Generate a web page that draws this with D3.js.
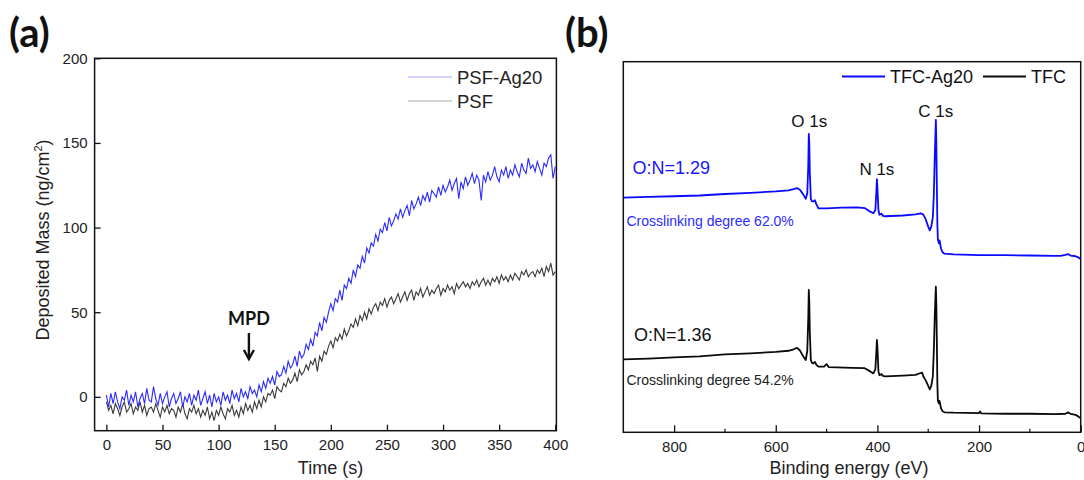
<!DOCTYPE html>
<html>
<head>
<meta charset="utf-8">
<script src="https://cdn.jsdelivr.net/npm/d3@7"></script>
<style>
  body { margin: 0; background: #fff; }
  svg { display: block; }
  text { font-family: "Liberation Sans", Arial, sans-serif; }
  .panel-label { font-family: Lato, "Open Sans", sans-serif; font-weight: 700; }
</style>
</head>
<body>
<svg id="chart"></svg>
<script>
// ---- Panel (a): QCM deposited mass vs time ----
// Samples every 2 s from 0 to 400 s.
const timeTicks = [0, 50, 100, 150, 200, 250, 300, 350, 400];
const massTicks = [0, 50, 100, 150, 200];

const psfAg20 = [
  1, -6, 2, -4, 3, -3, -7, 0, -2, 4,
  -5, 1, -3, 3, -6, -1, 2, -4, 5, -2,
  -3, 6, -1, -5, 2, -4, 0, 3, -6, -1,
  2, -4, -1, 3, -6, 0, -3, 2, -5, 1,
  -2, 4, -5, -1, 3, -4, 1, -6, 2, -3,
  0, -5, 3, -2, 1, -4, 4, -1, 2, -3,
  5, 0, 3, -1, 6, 2, 4, 0, 7, 3,
  9, 5, 11, 8, 12, 7, 15, 12, 13, 18,
  14, 21, 17, 19, 24, 18, 27, 23, 25, 31,
  28, 34, 30, 38, 36, 44, 39, 47, 44, 50,
  55, 51, 58, 56, 63, 57, 66, 64, 70, 67,
  75, 71, 78, 76, 83, 79, 88, 85, 91, 89,
  96, 92, 99, 97, 103, 98, 106, 101, 104, 108,
  105, 111, 106, 110, 113, 107, 116, 111, 114, 118,
  113, 119, 116, 121, 115, 122, 120, 118, 124, 119,
  125, 121, 124, 128, 122, 126, 129, 117, 127, 123,
  130, 125, 128, 132, 126, 131, 128, 116, 131, 127,
  133, 128, 131, 136, 130, 127, 134, 131, 136, 129,
  134, 131, 137, 133, 130, 138, 134, 132, 141, 135,
  137, 133, 139, 135, 131, 138, 136, 141, 143, 129,
  136
];

const psf = [
  -3, -8, -5, -10, -4, -7, -11, -6, -3, -9,
  -7, -4, -10, -6, -8, -3, -9, -5, -11, -7,
  -6, -9, -4, -8, -12, -6, -9, -5, -10, -7,
  -8, -12, -6, -9, -4, -10, -13, -7, -9, -5,
  -10, -7, -12, -8, -11, -6, -13, -9, -14, -8,
  -11, -6, -10, -13, -7, -9, -5, -11, -8, -12,
  -6, -10, -4, -8, -5, -9, -3, -7, -2, -6,
  0, -3, 2, 1, 4, -1, 6, 4, 3, 8,
  6, 11, 8, 10, 14, 9, 16, 13, 15, 19,
  16, 21, 19, 23, 15, 24, 21, 27, 25, 30,
  33, 29, 35, 33, 37, 34, 40, 36, 39, 43,
  41, 46, 42, 48, 45, 50, 46, 52, 49, 53,
  55, 51, 56, 54, 58, 53, 57, 59, 55, 58,
  61, 56, 59, 62, 57, 61, 63, 57, 62, 60,
  64, 59, 62, 65, 60, 63, 61, 64, 66, 60,
  64, 62, 66, 63, 65, 61, 67, 64, 66, 68,
  65, 67, 64, 68, 66, 69, 65, 68, 70, 66,
  69, 66, 70, 68, 71, 67, 72, 69, 71, 68,
  72, 69, 73, 71, 69, 74, 72, 75, 71, 73,
  74, 71, 75, 73, 76, 71, 77, 74, 79, 72,
  74
];

const timeStep = 2; // s between samples
const mpdTime = 127; // s, MPD addition

// ---- Panel (b): XPS survey spectra ----
const energyTicks = [800, 600, 400, 200, 0];
const energyMinorTicks = [700, 500, 300, 100];

const tfcAg20Energy = [900, 850, 800, 750, 700, 650, 600, 575, 565, 558, 552, 546, 541, 538, 536, 535, 534, 533, 531, 529,
  526, 523, 520, 516, 500, 470, 440, 425, 415, 408, 404, 402, 401, 400, 398, 396, 392, 389, 385, 350,
  325, 315, 310, 305, 300, 297, 294, 291, 289, 287, 285, 284, 283, 282, 281, 279, 278, 277, 275, 272,
  268, 250, 200, 150, 100, 50, 40, 30, 25, 20, 10, 5, 0];
const tfcAg20Intensity = [63.3, 63.5, 63.7, 63.9, 64.3, 64.6, 65.0, 65.3, 65.6, 65.9, 65.4, 64.2, 63.0, 64.5, 72, 80.5, 78, 70, 63, 62.4,
  62.3, 62.6, 61.5, 60.4, 60.4, 60.6, 60.7, 60.5, 59.6, 59.1, 60, 65, 68.3, 66, 60, 58.7, 59, 58.4, 58.3, 58.5,
  58.8, 59.1, 58.8, 57.5, 55.5, 54.5, 55.5, 58, 64, 75, 84.3, 78, 66, 56, 52, 51, 51.8, 51.3, 49.6, 48.6,
  48.2, 48.0, 47.8, 47.8, 47.7, 47.6, 47.6, 47.9, 48.1, 47.7, 47.5, 47.2, 46.8];

const tfcEnergy = [900, 850, 800, 750, 700, 650, 600, 575, 565, 558, 552, 546, 541, 538, 536, 535, 534, 533, 531, 529,
  526, 523, 520, 516, 505, 500, 496, 480, 450, 425, 415, 408, 404, 402, 401, 400, 398, 396, 392, 389,
  385, 350, 325, 315, 312, 310, 305, 300, 297, 294, 291, 289, 287, 285, 284, 283, 282, 281, 279, 278,
  277, 275, 272, 268, 250, 200, 198, 196, 150, 100, 50, 30, 25, 20, 10, 5, 0];
const tfcIntensity = [19.7, 19.9, 20.2, 20.5, 21.0, 21.3, 21.7, 22.0, 22.4, 22.8, 22.0, 20.5, 19.5, 22, 31, 38.4, 35, 27, 19.5, 18.8,
  18.6, 19, 18.2, 17.7, 17.7, 18.4, 17.6, 17.5, 17.4, 17.3, 16.5, 15.9, 17, 22, 24.9, 23, 16.5, 15.4, 15.7, 15.2,
  15.1, 15.3, 15.5, 16.0, 16.1, 15.2, 14.0, 12.5, 11.6, 12.5, 15, 22, 32, 39.3, 34, 24, 13, 8.5, 7.8, 8.5,
  8, 6.5, 5.7, 5.4, 5.3, 5.2, 5.6, 5.1, 5.0, 5.0, 4.9, 5.0, 5.4, 5.0, 4.7, 4.3, 3.8];

const peakLabels = [
  {text: 'O 1s', energy: 534, y: 127},
  {text: 'N 1s', energy: 401, y: 175},
  {text: 'C 1s', energy: 285, y: 117}
];

const WIDTH = 1084;
const HEIGHT = 480;

const svg = d3.select('#chart').attr('width', WIDTH).attr('height', HEIGHT);

// ================= Panel (a) =================
const A = {left: 94.6, right: 556.4, top: 58.3, bottom: 430.7};
const xA = d3.scaleLinear().domain([-10.5, 401]).range([A.left, A.right]);
const yA = d3.scaleLinear().domain([-20, 200]).range([A.bottom, A.top]);

const gA = svg.append('g');

const lineA = d3.line()
  .x((d, i) => xA(i * timeStep))
  .y(d => yA(d));

gA.append('path')
  .datum(psf)
  .attr('fill', 'none')
  .attr('stroke', '#3a3a3a')
  .attr('stroke-width', 1.1)
  .attr('d', lineA);

gA.append('path')
  .datum(psfAg20)
  .attr('fill', 'none')
  .attr('stroke', '#2b2bff')
  .attr('stroke-width', 1.1)
  .attr('d', lineA);

// axes with inward ticks
const xAxisA = d3.axisBottom(xA).tickValues(timeTicks).tickSize(-6).tickPadding(9);
const yAxisA = d3.axisLeft(yA).tickValues(massTicks).tickSize(-6).tickPadding(7);

function styleAxis(g) {
  g.select('.domain').remove();
  g.selectAll('.tick line').attr('stroke', '#111').attr('stroke-width', 1.3);
  g.selectAll('.tick text')
    .attr('fill', '#222')
    .style('font-size', '15px')
    .style('font-family', '"Liberation Sans", Arial, sans-serif');
}

gA.append('g')
  .attr('transform', `translate(0,${A.bottom})`)
  .call(xAxisA)
  .call(styleAxis);

gA.append('g')
  .attr('transform', `translate(${A.left},0)`)
  .call(yAxisA)
  .call(styleAxis);

gA.append('rect')
  .attr('x', A.left)
  .attr('y', A.top)
  .attr('width', A.right - A.left)
  .attr('height', A.bottom - A.top)
  .attr('fill', 'none')
  .attr('stroke', '#111')
  .attr('stroke-width', 1.5);

// axis titles
gA.append('text')
  .attr('x', (A.left + A.right) / 2 + 5)
  .attr('y', 474)
  .attr('text-anchor', 'middle')
  .attr('fill', '#222')
  .style('font-size', '18px')
  .text('Time (s)');

const yTitle = gA.append('text')
  .attr('transform', 'translate(49,240) rotate(-90)')
  .attr('text-anchor', 'middle')
  .attr('fill', '#222')
  .style('font-size', '18px');
yTitle.append('tspan').text('Deposited Mass (ng/cm');
yTitle.append('tspan').attr('dy', -7).style('font-size', '11px').text('2');
yTitle.append('tspan').attr('dy', 7).text(')');

// legend
const legendA = [
  {name: 'PSF-Ag20', color: '#a9a9ff', y: 77},
  {name: 'PSF', color: '#a8a8a8', y: 101}
];
legendA.forEach(d => {
  gA.append('line')
    .attr('x1', 408).attr('x2', 452)
    .attr('y1', d.y).attr('y2', d.y)
    .attr('stroke', d.color)
    .attr('stroke-width', 1.2);
  gA.append('text')
    .attr('x', 457)
    .attr('y', d.y + 6.5)
    .attr('fill', '#222')
    .style('font-size', '18.5px')
    .text(d.name);
});

// MPD arrow annotation
const arrowX = xA(mpdTime);
gA.append('text')
  .attr('class', 'panel-label')
  .attr('x', arrowX)
  .attr('y', 325)
  .attr('text-anchor', 'middle')
  .attr('fill', '#111')
  .style('font-size', '18px')
  .text('MPD');
gA.append('line')
  .attr('x1', arrowX).attr('x2', arrowX)
  .attr('y1', 333).attr('y2', 358)
  .attr('stroke', '#111')
  .attr('stroke-width', 2.4);
gA.append('path')
  .attr('d', `M${arrowX - 5},${350} L${arrowX},${359} L${arrowX + 5},${350}`)
  .attr('fill', 'none')
  .attr('stroke', '#111')
  .attr('stroke-width', 2.4);

svg.append('text')
  .attr('class', 'panel-label')
  .attr('x', 9)
  .attr('y', 47)
  .attr('fill', '#111')
  .style('font-size', '40px')
  .text('(a)');

// ================= Panel (b) =================
const B = {left: 623.3, right: 1080.7, top: 61.7, bottom: 432.3};
const xB = d3.scaleLinear().domain([900, 0]).range([B.left, B.right]);
const yB = d3.scaleLinear().domain([0, 100]).range([B.bottom, B.top]);

const gB = svg.append('g');

const spectra = [
  {energy: tfcAg20Energy, intensity: tfcAg20Intensity, color: '#0a0aff'},
  {energy: tfcEnergy, intensity: tfcIntensity, color: '#0a0a0a'}
];

const lineB = d3.line()
  .x(d => xB(d[0]))
  .y(d => yB(d[1]));

spectra.forEach(s => {
  gB.append('path')
    .datum(s.energy.map((e, i) => [e, s.intensity[i]]))
    .attr('fill', 'none')
    .attr('stroke', s.color)
    .attr('stroke-width', 1.8)
    .attr('stroke-linejoin', 'round')
    .attr('d', lineB);
});

const xAxisB = d3.axisBottom(xB).tickValues(energyTicks).tickSize(-7).tickPadding(9);
gB.append('g')
  .attr('transform', `translate(0,${B.bottom})`)
  .call(xAxisB)
  .call(styleAxis);

// minor ticks
gB.append('g')
  .selectAll('line')
  .data(energyMinorTicks)
  .join('line')
  .attr('x1', d => xB(d)).attr('x2', d => xB(d))
  .attr('y1', B.bottom).attr('y2', B.bottom - 3.5)
  .attr('stroke', '#111')
  .attr('stroke-width', 1.2);

gB.append('rect')
  .attr('x', B.left)
  .attr('y', B.top)
  .attr('width', B.right - B.left)
  .attr('height', B.bottom - B.top)
  .attr('fill', 'none')
  .attr('stroke', '#111')
  .attr('stroke-width', 1.5);

gB.append('text')
  .attr('x', 849)
  .attr('y', 474)
  .attr('text-anchor', 'middle')
  .attr('fill', '#222')
  .style('font-size', '18px')
  .text('Binding energy (eV)');

// legend (b)
const legendB = [
  {name: 'TFC-Ag20', color: '#0a0aff', x1: 842, x2: 885, tx: 890},
  {name: 'TFC', color: '#0a0a0a', x1: 983, x2: 1026, tx: 1031}
];
legendB.forEach(d => {
  gB.append('line')
    .attr('x1', d.x1).attr('x2', d.x2)
    .attr('y1', 76.5).attr('y2', 76.5)
    .attr('stroke', d.color)
    .attr('stroke-width', 1.8);
  gB.append('text')
    .attr('x', d.tx)
    .attr('y', 83)
    .attr('fill', '#111')
    .style('font-size', '18px')
    .text(d.name);
});

// peak labels
gB.selectAll('.peak')
  .data(peakLabels)
  .join('text')
  .attr('class', 'peak')
  .attr('x', d => xB(d.energy))
  .attr('y', d => d.y)
  .attr('text-anchor', 'middle')
  .attr('fill', '#111')
  .style('font-size', '17px')
  .text(d => d.text);

// ratio / crosslinking notes
const notes = [
  {text: 'O:N=1.29', x: 632.5, y: 174, size: 18, color: '#1515ff'},
  {text: 'Crosslinking degree 62.0%', x: 626.5, y: 226, size: 14, color: '#2a2aff'},
  {text: 'O:N=1.36', x: 634, y: 341, size: 18, color: '#111'},
  {text: 'Crosslinking degree 54.2%', x: 626.5, y: 385, size: 14, color: '#222'}
];
gB.selectAll('.note')
  .data(notes)
  .join('text')
  .attr('class', 'note')
  .attr('x', d => d.x)
  .attr('y', d => d.y)
  .attr('fill', d => d.color)
  .style('font-size', d => d.size + 'px')
  .text(d => d.text);

svg.append('text')
  .attr('class', 'panel-label')
  .attr('x', 565)
  .attr('y', 47)
  .attr('fill', '#111')
  .style('font-size', '40px')
  .text('(b)');
</script>
</body>
</html>
